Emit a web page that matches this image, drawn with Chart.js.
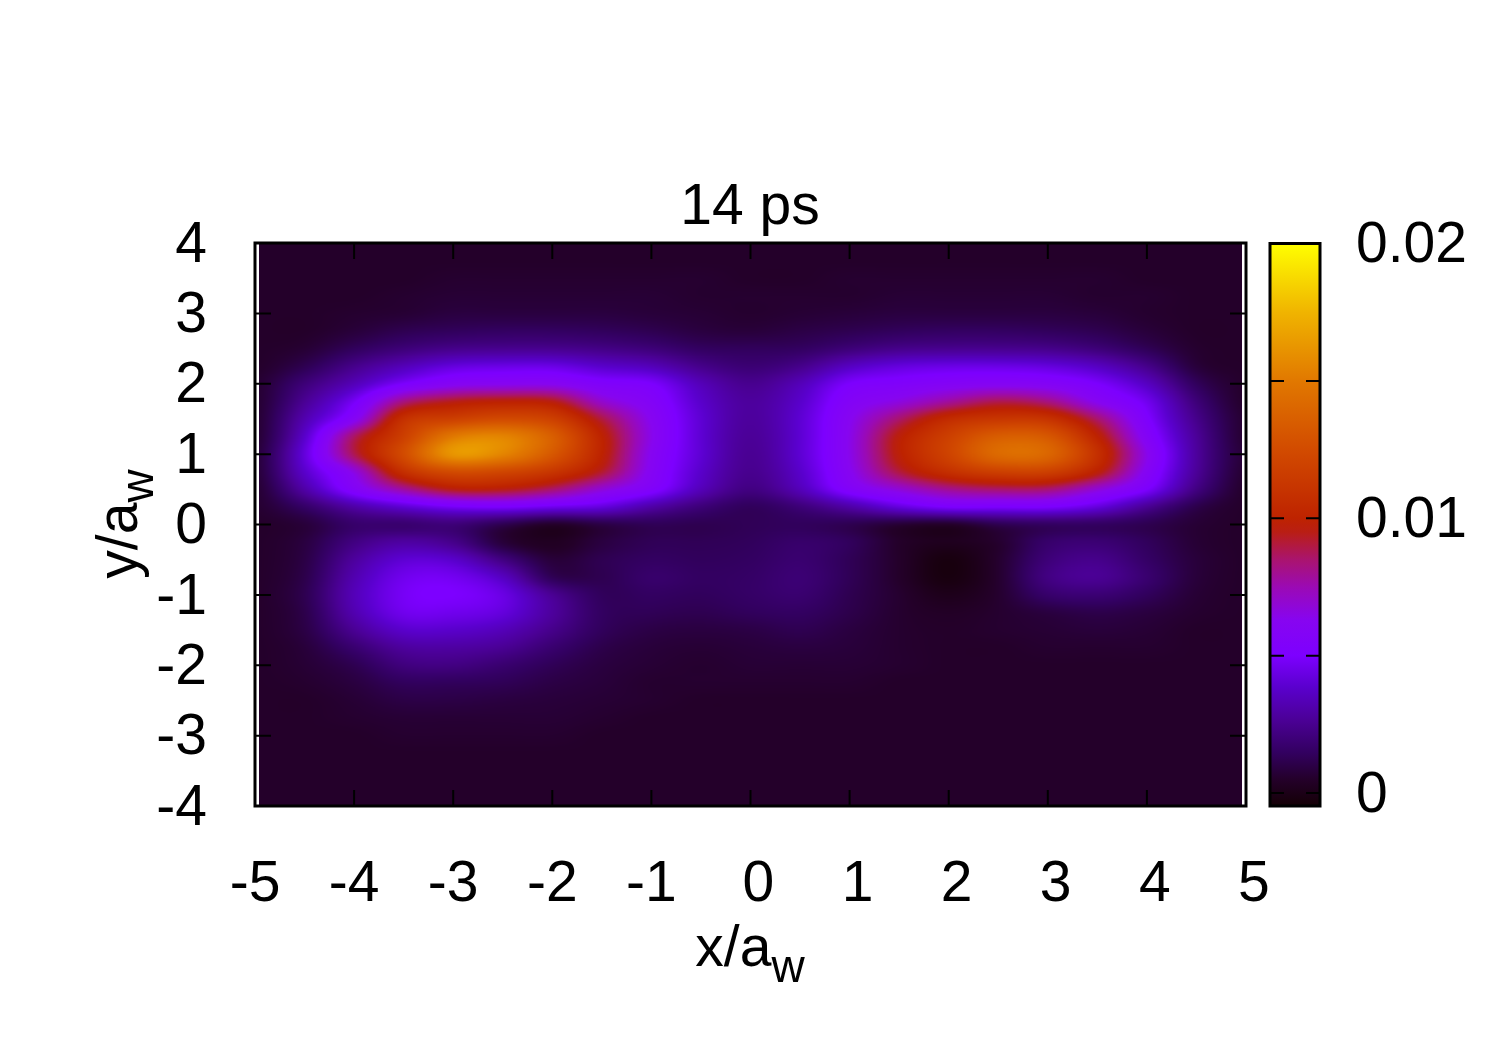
<!DOCTYPE html>
<html>
<head>
<meta charset="utf-8">
<title>14 ps</title>
<script src="https://cdn.jsdelivr.net/npm/chart.js@4"></script>
<style>
body { margin: 0; background: #fff; }
#wrap { position: relative; width: 1500px; height: 1050px; }
canvas { position: absolute; left: 0; top: 0; }
</style>
</head>
<body>
<div id="wrap">
  <canvas id="mapChart" width="1500" height="1050"></canvas>
  <canvas id="barChart" width="1500" height="1050"></canvas>
</div>
<script>
var titleText = "14 ps";
var xTicks = [-5, -4, -3, -2, -1, 0, 1, 2, 3, 4, 5];
var yTicks = [-4, -3, -2, -1, 0, 1, 2, 3, 4];
var cbTicks = [0, 0.005, 0.01, 0.015, 0.02];
var cbLabels = {"0": "0", "0.01": "0.01", "0.02": "0.02"};

// sampling positions of the map, values in units of 1e-4
var xGrid = [-5, -4.5, -4, -3.5, -3, -2.5, -2, -1.5, -1, -0.5, 0, 0.5, 1, 1.5, 2, 2.5, 3, 3.5, 4, 4.5, 5];
var yGrid = [4, 3.75, 3.5, 3.25, 3, 2.75, 2.5, 2.25, 2, 1.75, 1.5, 1.25, 1, 0.75, 0.5, 0.25, 0,
    -0.25, -0.5, -0.75, -1, -1.25, -1.5, -1.75, -2, -2.25, -2.5, -2.75, -3, -3.25, -3.5, -3.75, -4];
var density = [
    [5, 5, 5, 5, 5, 5, 5, 5, 5, 5, 5, 5, 5, 5, 5, 5, 5, 5, 5, 5, 5],
    [5, 5, 5, 5, 5, 5, 5, 5, 5, 5, 5, 5, 5, 5, 5, 5, 5, 5, 5, 5, 5],
    [5, 5, 5, 5, 6, 6, 6, 6, 6, 6, 5, 5, 6, 6, 6, 6, 6, 6, 5, 5, 5],
    [5, 5, 5, 6, 7, 7, 7, 7, 7, 6, 6, 6, 6, 7, 7, 7, 7, 6, 6, 5, 5],
    [5, 5, 6, 7, 9, 9, 9, 9, 8, 7, 6, 7, 8, 9, 9, 9, 9, 8, 6, 5, 5],
    [5, 5, 8, 12, 14, 15, 15, 14, 12, 9, 8, 10, 12, 14, 15, 15, 14, 12, 8, 5, 5],
    [5, 7, 14, 20, 24, 25, 25, 23, 20, 15, 14, 15, 20, 24, 25, 25, 24, 20, 13, 6, 5],
    [5, 12, 24, 34, 42, 44, 44, 38, 34, 24, 19, 24, 36, 42, 44, 44, 42, 36, 24, 8, 5],
    [6, 20, 34, 50, 60, 62, 62, 54, 50, 34, 25, 34, 50, 54, 58, 60, 58, 50, 36, 14, 5],
    [6, 26, 48, 82, 94, 98, 95, 70, 57, 38, 28, 38, 57, 66, 78, 88, 82, 62, 46, 20, 5],
    [6, 32, 60, 108, 118, 124, 118, 90, 62, 40, 28, 40, 62, 85, 105, 112, 110, 85, 52, 24, 6],
    [6, 38, 86, 118, 150, 155, 136, 100, 64, 40, 27, 40, 64, 97, 118, 135, 132, 100, 58, 27, 6],
    [7, 42, 88, 125, 162, 155, 132, 100, 62, 40, 26, 40, 64, 98, 120, 142, 140, 108, 64, 28, 7],
    [7, 38, 66, 108, 125, 122, 112, 92, 60, 38, 25, 38, 62, 90, 108, 118, 118, 98, 60, 27, 6],
    [6, 30, 56, 78, 95, 95, 85, 68, 54, 34, 22, 34, 55, 68, 80, 85, 84, 68, 50, 22, 5],
    [6, 16, 30, 40, 48, 50, 46, 42, 30, 20, 14, 20, 30, 42, 50, 50, 50, 42, 26, 11, 5],
    [5, 8, 17, 18, 20, 12, 5, 10, 13, 12, 13, 14, 12, 7, 5, 12, 15, 15, 12, 7, 5],
    [5, 9, 22, 29, 24, 8, 3, 9, 13, 13, 14, 17, 14, 5, 2, 6, 17, 19, 14, 7, 5],
    [5, 10, 28, 40, 38, 22, 8, 12, 15, 14, 15, 18, 13, 5, -2, 6, 20, 24, 16, 8, 5],
    [5, 11, 32, 46, 47, 36, 13, 12, 17, 15, 16, 19, 13, 5, -2, 6, 22, 26, 18, 8, 5],
    [5, 12, 34, 48, 50, 44, 26, 14, 15, 14, 16, 18, 12, 6, 1, 6, 17, 19, 14, 7, 5],
    [5, 11, 32, 46, 46, 42, 28, 15, 13, 12, 14, 15, 11, 6, 4, 6, 9, 11, 9, 6, 5],
    [5, 10, 26, 38, 38, 34, 24, 14, 10, 9, 10, 12, 9, 6, 5, 6, 7, 8, 7, 5, 5],
    [5, 8, 18, 28, 29, 26, 18, 11, 8, 7, 8, 9, 8, 6, 5, 5, 6, 6, 6, 5, 5],
    [5, 7, 12, 21, 22, 18, 13, 9, 7, 6, 7, 7, 7, 6, 5, 5, 5, 5, 5, 5, 5],
    [5, 6, 9, 14, 14, 13, 10, 8, 6, 6, 6, 6, 6, 5, 5, 5, 5, 5, 5, 5, 5],
    [5, 5, 7, 10, 10, 9, 8, 7, 6, 5, 5, 5, 5, 5, 5, 5, 5, 5, 5, 5, 5],
    [5, 5, 6, 7, 7, 7, 7, 6, 5, 5, 5, 5, 5, 5, 5, 5, 5, 5, 5, 5, 5],
    [5, 5, 5, 6, 6, 6, 6, 5, 5, 5, 5, 5, 5, 5, 5, 5, 5, 5, 5, 5, 5],
    [5, 5, 5, 5, 5, 5, 5, 5, 5, 5, 5, 5, 5, 5, 5, 5, 5, 5, 5, 5, 5],
    [5, 5, 5, 5, 5, 5, 5, 5, 5, 5, 5, 5, 5, 5, 5, 5, 5, 5, 5, 5, 5],
    [5, 5, 5, 5, 5, 5, 5, 5, 5, 5, 5, 5, 5, 5, 5, 5, 5, 5, 5, 5, 5],
    [5, 5, 5, 5, 5, 5, 5, 5, 5, 5, 5, 5, 5, 5, 5, 5, 5, 5, 5, 5, 5]
];

// palette
var paletteValues = [-0.00047, 0.0005, 0.00145, 0.00265, 0.00385, 0.005, 0.0063, 0.0075, 0.0085, 0.0095, 0.01, 0.0125, 0.015, 0.0175, 0.02];
var paletteColors = [[20,0,5], [36,0,42], [50,0,95], [75,0,150], [90,0,205], [125,0,255], [135,5,240], [155,10,180], [170,20,110], [185,30,20], [190,35,0], [210,75,0], [225,120,0], [240,180,0], [255,255,0]];

var cbMin = paletteValues[0];
var cbMax = 0.02;
var mapLimit = 4.96; // the map stops just short of the frame on both sides
var fontName = '"Liberation Sans", Arial, sans-serif';
var fontSize = 57;

function colorFor(v) {
    if (v <= paletteValues[0]) return paletteColors[0];
    for (var i = 1; i < paletteValues.length; i++) {
        if (v <= paletteValues[i]) {
            var t = (v - paletteValues[i - 1]) / (paletteValues[i] - paletteValues[i - 1]);
            var a = paletteColors[i - 1], b = paletteColors[i];
            return [a[0] + (b[0] - a[0]) * t, a[1] + (b[1] - a[1]) * t, a[2] + (b[2] - a[2]) * t];
        }
    }
    return paletteColors[paletteColors.length - 1];
}

function cubic(p0, p1, p2, p3, t) {
    return p1 + 0.5 * t * (p2 - p0 + t * (2 * p0 - 5 * p1 + 4 * p2 - p3 + t * (3 * (p1 - p2) + p3 - p0)));
}

function cellValue(r, c) {
    r = Math.max(0, Math.min(yGrid.length - 1, r));
    c = Math.max(0, Math.min(xGrid.length - 1, c));
    return density[r][c];
}

// smooth shading between the read values, like pm3d interpolate in the original
function shadeAt(x, y) {
    var u = (x - xGrid[0]) / (xGrid[1] - xGrid[0]);
    var v = (yGrid[0] - y) / (yGrid[0] - yGrid[1]);
    var c = Math.floor(u), r = Math.floor(v);
    var rows = [];
    for (var k = -1; k <= 2; k++) {
        rows.push(cubic(cellValue(r + k, c - 1), cellValue(r + k, c), cellValue(r + k, c + 1), cellValue(r + k, c + 2), u - c));
    }
    return cubic(rows[0], rows[1], rows[2], rows[3], v - r) / 10000;
}

var tiles = {};

// each map point is drawn by the library as a small canvas tile
function tileFor(context) {
    if (!context.raw || !context.chart.chartArea) return 'rect'; // options are read once before layout
    var key = context.raw.x + '_' + context.raw.y;
    if (tiles[key]) return tiles[key];
    var sx = context.chart.scales.x, sy = context.chart.scales.y;
    var pxX = sx.getPixelForValue(1) - sx.getPixelForValue(0);
    var pxY = sy.getPixelForValue(0) - sy.getPixelForValue(1);
    var w = Math.ceil(pxX * (xGrid[1] - xGrid[0])) + 2;
    var h = Math.ceil(pxY * (yGrid[0] - yGrid[1])) + 2;
    var tile = document.createElement('canvas');
    tile.width = w;
    tile.height = h;
    var tctx = tile.getContext('2d');
    var img = tctx.createImageData(w, h);
    for (var j = 0; j < h; j++) {
        for (var i = 0; i < w; i++) {
            var dx = context.raw.x + (i + 0.5 - w / 2) / pxX;
            var dy = context.raw.y - (j + 0.5 - h / 2) / pxY;
            if (Math.abs(dx) > mapLimit) continue;
            var col = colorFor(shadeAt(dx, dy));
            var n = (j * w + i) * 4;
            img.data[n] = col[0];
            img.data[n + 1] = col[1];
            img.data[n + 2] = col[2];
            img.data[n + 3] = 255;
        }
    }
    tctx.putImageData(img, 0, 0);
    tiles[key] = tile;
    return tile;
}

var mapPoints = [];
for (var r = 0; r < yGrid.length; r++) {
    for (var c = 0; c < xGrid.length; c++) {
        mapPoints.push({x: xGrid[c], y: yGrid[r], z: density[r][c] / 10000});
    }
}

// text with a subscript, the title option can't do this
function drawSubscripted(ctx, main, sub, cx, cy, angle) {
    ctx.save();
    ctx.translate(cx, cy);
    ctx.rotate(angle);
    ctx.fillStyle = '#000';
    ctx.textBaseline = 'alphabetic';
    ctx.textAlign = 'left';
    ctx.font = fontSize + 'px ' + fontName;
    var mainWidth = ctx.measureText(main).width;
    ctx.font = '46px ' + fontName;
    var subWidth = ctx.measureText(sub).width;
    var start = -(mainWidth + subWidth) / 2;
    ctx.font = fontSize + 'px ' + fontName;
    ctx.fillText(main, start, 0);
    ctx.font = '46px ' + fontName;
    ctx.fillText(sub, start + mainWidth, 16);
    ctx.restore();
}

var framePlugin = {
    id: 'frame',
    afterDraw: function(chart) {
        var ctx = chart.ctx, a = chart.chartArea;
        ctx.save();
        ctx.strokeStyle = '#000';
        ctx.lineWidth = 2;
        ctx.beginPath();
        xTicks.forEach(function(t) {
            var p = chart.scales.x.getPixelForValue(t);
            ctx.moveTo(p, a.bottom);
            ctx.lineTo(p, a.bottom - 16);
            ctx.moveTo(p, a.top);
            ctx.lineTo(p, a.top + 16);
        });
        yTicks.forEach(function(t) {
            var p = chart.scales.y.getPixelForValue(t);
            ctx.moveTo(a.left, p);
            ctx.lineTo(a.left + 16, p);
            ctx.moveTo(a.right, p);
            ctx.lineTo(a.right - 16, p);
        });
        ctx.stroke();
        ctx.lineWidth = 3;
        ctx.strokeRect(a.left, a.top, a.right - a.left, a.bottom - a.top);
        ctx.restore();
        drawSubscripted(ctx, 'x/a', 'w', 750, 966, 0);
        drawSubscripted(ctx, 'y/a', 'w', 137, 524, -Math.PI / 2);
    }
};

var mapChart = new Chart('mapChart', {
    type: 'scatter',
    data: {
        datasets: [{
            label: 'density',
            data: mapPoints,
            xAxisID: 'x',
            yAxisID: 'y',
            pointRadius: 1,
            pointBorderWidth: 0,
            pointStyle: tileFor
        }]
    },
    options: {
        responsive: false,
        animation: false,
        events: [],
        plugins: {
            legend: {display: false},
            tooltip: {enabled: false},
            title: {
                display: true,
                text: titleText,
                color: '#000',
                font: {family: fontName, size: fontSize, weight: 'normal', lineHeight: 1.2},
                padding: {top: 174, bottom: 0.6}
            }
        },
        scales: {
            x: {
                type: 'linear',
                min: -5,
                max: 5,
                afterFit: function(s) { s.height = 244; },
                afterBuildTicks: function(s) { s.ticks = xTicks.map(function(v) { return {value: v}; }); },
                grid: {display: false, drawTicks: false},
                border: {display: false},
                ticks: {
                    color: '#000',
                    padding: 45,
                    autoSkip: false,
                    maxRotation: 0,
                    font: {family: fontName, size: fontSize},
                    // the original's positive labels sit a little right of their ticks
                    callback: function(v) { return v >= 0 ? '\u00A0' + v : String(v); }
                }
            },
            y: {
                type: 'linear',
                min: -4,
                max: 4,
                afterFit: function(s) { s.width = 255; },
                afterBuildTicks: function(s) { s.ticks = yTicks.map(function(v) { return {value: v}; }); },
                grid: {display: false, drawTicks: false},
                border: {display: false},
                ticks: {
                    color: '#000',
                    padding: 48,
                    labelOffset: 3,
                    autoSkip: false,
                    font: {family: fontName, size: fontSize},
                    callback: function(v) { return String(v); }
                }
            },
            // empty axis, keeps room on the right for the colour bar and the title centred
            spacer: {
                type: 'linear',
                position: 'right',
                afterFit: function(s) { s.width = 254; },
                grid: {display: false, drawTicks: false},
                border: {display: false},
                ticks: {display: false}
            }
        }
    },
    plugins: [framePlugin]
});

function barGradient(context) {
    var chart = context.chart;
    if (!chart.chartArea) return '#000';
    var s = chart.scales.y;
    var g = chart.ctx.createLinearGradient(0, s.getPixelForValue(cbMin), 0, s.getPixelForValue(cbMax));
    paletteValues.forEach(function(v, i) {
        var col = paletteColors[i];
        g.addColorStop((v - cbMin) / (cbMax - cbMin), 'rgb(' + col[0] + ',' + col[1] + ',' + col[2] + ')');
    });
    return g;
}

var barFrame = {
    id: 'barFrame',
    afterDraw: function(chart) {
        var ctx = chart.ctx, a = chart.chartArea;
        ctx.save();
        ctx.strokeStyle = '#000';
        ctx.lineWidth = 2;
        ctx.beginPath();
        cbTicks.forEach(function(t) {
            if (t === cbMax) return;
            var p = chart.scales.y.getPixelForValue(t);
            ctx.moveTo(a.left, p);
            ctx.lineTo(a.left + 14, p);
            ctx.moveTo(a.right, p);
            ctx.lineTo(a.right - 14, p);
        });
        ctx.stroke();
        ctx.lineWidth = 3;
        ctx.strokeRect(a.left, a.top, a.right - a.left, a.bottom - a.top);
        ctx.restore();
    }
};

var barChart = new Chart('barChart', {
    type: 'bar',
    data: {
        labels: ['density'],
        datasets: [{
            data: [[cbMin, cbMax]],
            backgroundColor: barGradient,
            barPercentage: 1,
            categoryPercentage: 1
        }]
    },
    options: {
        responsive: false,
        animation: false,
        events: [],
        layout: {padding: {top: 243.5, left: 1270, right: 0, bottom: 244}},
        plugins: {legend: {display: false}, tooltip: {enabled: false}},
        scales: {
            x: {display: false},
            y: {
                position: 'right',
                min: cbMin,
                max: cbMax,
                afterFit: function(s) { s.width = 180; },
                afterBuildTicks: function(s) { s.ticks = cbTicks.map(function(v) { return {value: v}; }); },
                grid: {display: false, drawTicks: false},
                border: {display: false},
                ticks: {
                    color: '#000',
                    padding: 36,
                    labelOffset: 3,
                    autoSkip: false,
                    font: {family: fontName, size: fontSize},
                    callback: function(v) { return cbLabels[String(v)] || ''; }
                }
            }
        }
    },
    plugins: [barFrame]
});
</script>
</body>
</html>
